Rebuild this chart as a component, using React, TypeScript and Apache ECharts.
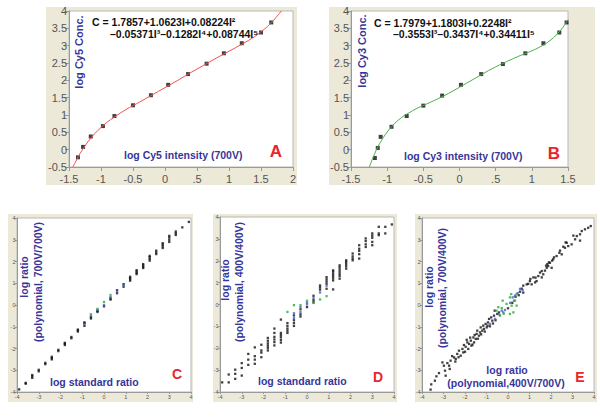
import React, { useEffect, useRef } from "react";
import * as echarts from "echarts";

// ---------- Panel A (Cy5) ----------
const aPointsI = [-1.36, -1.28, -1.16, -0.97, -0.79, -0.5, -0.22, 0.05, 0.36, 0.65, 0.92, 1.2, 1.5, 1.66];
const aPointsC = [-0.22, 0.08, 0.38, 0.68, 0.97, 1.28, 1.57, 1.87, 2.18, 2.48, 2.78, 3.07, 3.38, 3.67];
const aCurveI = [-1.44, -1.4, -1.35, -1.3, -1.2, -1.1, -1.0, -0.9, -0.8, -0.6, -0.4, -0.2, 0, 0.2, 0.4, 0.6, 0.8, 1.0, 1.2, 1.4, 1.5, 1.6, 1.7, 1.82];
const aCurveC = [-0.5, -0.36, -0.18, -0.03, 0.24, 0.46, 0.64, 0.8, 0.93, 1.17, 1.37, 1.58, 1.79, 2.0, 2.22, 2.43, 2.64, 2.84, 3.04, 3.26, 3.4, 3.55, 3.74, 4.0];

// ---------- Panel B (Cy3) ----------
const bPointsI = [-1.17, -1.13, -1.09, -0.94, -0.73, -0.5, -0.24, 0.02, 0.3, 0.6, 0.91, 1.16, 1.38, 1.48];
const bPointsC = [-0.24, 0.05, 0.37, 0.66, 0.97, 1.27, 1.56, 1.87, 2.18, 2.47, 2.78, 3.07, 3.38, 3.67];
const bCurveI = [-1.246, -1.2, -1.15, -1.1, -1.05, -1.0, -0.9, -0.8, -0.7, -0.6, -0.4, -0.2, 0, 0.2, 0.4, 0.6, 0.8, 1.0, 1.1, 1.2, 1.3, 1.4, 1.45, 1.5];
const bCurveC = [-0.5, -0.25, -0.01, 0.19, 0.36, 0.51, 0.75, 0.93, 1.06, 1.18, 1.37, 1.57, 1.8, 2.04, 2.28, 2.49, 2.68, 2.85, 2.95, 3.07, 3.23, 3.45, 3.59, 3.75];

// ---------- Panel C ----------
const cBlack: number[][] = [
  [-3.9, -3.88], [-3.6, -3.62], [-3.6, -3.58], [-3.3, -3.35], [-3.3, -3.28], [-3.3, -3.22],
  [-3.0, -3.05], [-3.0, -2.98], [-2.7, -2.72], [-2.7, -2.66], [-2.4, -2.5], [-2.4, -2.44], [-2.4, -2.38],
  [-2.1, -2.12], [-2.1, -2.06], [-1.8, -1.84], [-1.8, -1.78], [-1.8, -1.74], [-1.5, -1.53], [-1.5, -1.47],
  [-1.2, -1.22], [-1.2, -1.17], [-1.2, -1.13], [-0.9, -0.96], [-0.9, -0.84], [-0.9, -0.8],
  [-0.6, -0.62], [-0.6, -0.56], [-0.3, -0.32], [-0.3, -0.27], [0, -0.06], [0.3, 0.25], [0.3, 0.3],
  [0.6, 0.54], [0.6, 0.68], [0.9, 0.84], [0.9, 0.96], [1.2, 1.12], [1.2, 1.18], [1.2, 1.24], [1.2, 1.3],
  [1.5, 1.42], [1.5, 1.48], [1.5, 1.54], [1.5, 1.6], [1.8, 1.7], [1.8, 1.76], [1.8, 1.82], [1.8, 1.88],
  [2.1, 2.04], [2.1, 2.12], [2.1, 2.2], [2.1, 2.26], [2.4, 2.34], [2.4, 2.42], [2.4, 2.5],
  [2.7, 2.62], [2.7, 2.7], [2.7, 2.78], [2.7, 2.84], [3.0, 2.9], [3.0, 3.0], [3.0, 3.1], [3.0, 3.18],
  [3.3, 3.22], [3.3, 3.3], [3.3, 3.38], [3.6, 3.57], [3.9, 3.82],
];
const cBlue: number[][] = [[-0.9, -0.88], [-0.6, -0.5], [-0.3, -0.22], [0, 0.0], [0.3, 0.36], [0.6, 0.62], [0.9, 0.9]];
const cGreen: number[][] = [[-0.6, -0.42], [-0.3, -0.18], [0, 0.14], [0.3, 0.46]];

// ---------- Panel D ----------
const dBlack: number[][] = [
  [-3.9, -3.56], [-3.6, -3.56], [-3.6, -3.2], [-3.3, -3.4], [-3.3, -3.17], [-3.3, -2.98],
  [-3.0, -3.25], [-3.0, -2.9], [-3.0, -2.68], [-2.7, -2.76], [-2.7, -2.52], [-2.7, -2.26],
  [-2.4, -2.71], [-2.4, -2.52], [-2.4, -2.36], [-2.4, -1.96], [-2.1, -2.41], [-2.1, -2.2], [-2.1, -2.1], [-2.1, -1.84],
  [-1.8, -2.1], [-1.8, -1.98], [-1.8, -1.88], [-1.8, -1.78], [-1.8, -1.66], [-1.8, -1.53],
  [-1.5, -1.87], [-1.5, -1.72], [-1.5, -1.6], [-1.5, -1.48], [-1.5, -1.3], [-1.5, -1.1],
  [-1.2, -1.74], [-1.2, -1.62], [-1.2, -1.5], [-1.2, -1.4], [-1.2, -1.3], [-1.2, -0.69],
  [-0.9, -1.3], [-0.9, -1.2], [-0.9, -1.1], [-0.9, -0.98], [-0.9, -0.85],
  [-0.6, -0.98], [-0.6, -0.85], [-0.6, -0.72], [-0.6, -0.5], [-0.3, -0.55], [-0.3, -0.45], [-0.3, -0.22],
  [0, -0.12], [0.3, 0.1], [0.3, 0.2], [0.3, 0.4], [0.6, 0.68], [0.6, 0.78], [0.6, 0.87],
  [0.9, 0.72], [0.9, 0.95], [0.9, 1.05], [0.9, 1.15], [0.9, 1.25],
  [1.2, 0.69], [1.2, 1.1], [1.2, 1.2], [1.2, 1.3], [1.2, 1.4], [1.2, 1.5], [1.2, 1.56],
  [1.5, 1.18], [1.5, 1.3], [1.5, 1.4], [1.5, 1.5], [1.5, 1.6], [1.5, 1.7], [1.5, 1.79],
  [1.8, 1.64], [1.8, 1.75], [1.8, 1.85], [1.8, 1.95], [1.8, 2.02], [2.1, 2.02], [2.1, 2.1], [2.1, 2.2], [2.1, 2.33],
  [2.4, 2.1], [2.4, 2.3], [2.4, 2.45], [2.4, 2.55], [2.4, 2.71], [2.7, 2.63], [2.7, 2.75], [2.7, 2.9], [2.7, 3.02],
  [3.0, 2.71], [3.0, 2.86], [3.0, 3.05], [3.0, 3.15], [3.0, 3.25], [3.3, 3.17], [3.3, 3.25], [3.3, 3.55],
  [3.6, 3.25], [3.6, 3.55], [3.9, 3.66],
];
const dBlue: number[][] = [[-0.6, -0.62], [-0.6, -0.4], [-0.3, -0.35], [-0.3, -0.12], [0, 0.0], [0, 0.08], [0.3, 0.3], [0.6, 0.55], [0.9, 0.86]];
const dGreen: number[][] = [[-0.9, -0.34], [-0.6, -0.03], [-0.3, -0.03], [0, 0.17], [0.3, 0.07], [0.6, 0.23], [0.9, 0.38]];

// ---------- Panel E ----------
const eBlack: number[][] = [
  [-3.6, -3.89], [-3.57, -3.65], [-3.4, -3.48], [-3.33, -3.28], [-3.21, -3.13], [-3.05, -2.64], [-2.98, -2.79],
  [-2.93, -3.02], [-2.9, -3.25], [-2.82, -2.67], [-2.71, -2.94], [-2.74, -2.79], [-2.67, -2.56], [-2.6, -2.35],
  [-2.51, -2.41], [-2.45, -2.6], [-2.43, -2.48], [-2.36, -2.25], [-2.3, -2.4], [-2.28, -2.1], [-2.2, -2.33],
  [-2.12, -2.02], [-2.08, -2.18], [-2.05, -1.84], [-2.0, -2.15], [-1.97, -1.92], [-1.92, -1.6], [-1.89, -1.72],
  [-1.85, -2.02], [-1.81, -1.79], [-1.76, -1.5], [-1.73, -1.64], [-1.7, -1.87], [-1.65, -1.82], [-1.61, -1.49],
  [-1.58, -1.72], [-1.55, -1.38], [-1.5, -1.56], [-1.46, -1.33], [-1.43, -1.18], [-1.4, -1.55], [-1.35, -1.41],
  [-1.3, -1.26], [-1.27, -1.03], [-1.25, -1.35], [-1.2, -1.18], [-1.15, -0.95], [-1.12, -1.1], [-1.08, -1.22],
  [-1.04, -0.87], [-0.99, -1.03], [-0.95, -0.95], [-0.93, -0.8], [-0.88, -0.64], [-0.84, -0.98], [-0.78, -0.57],
  [-0.73, -0.72], [-0.7, -0.85], [-0.65, -0.49], [-0.62, -0.26], [-0.58, -0.7], [-0.5, -0.41], [-0.42, -0.34],
  [0.0, -0.15], [0.2, 0.1], [0.35, 0.38], [0.5, 0.45], [0.56, 0.61], [0.64, 0.75], [0.71, 0.57], [0.71, 0.89],
  [0.87, 0.95], [0.94, 0.97], [1.02, 1.1], [1.04, 1.2], [1.1, 0.95], [1.18, 1.27], [1.26, 1.04], [1.28, 1.26],
  [1.33, 1.1], [1.41, 1.33], [1.49, 1.49], [1.57, 1.56], [1.57, 1.27], [1.64, 1.41], [1.72, 1.58], [1.77, 1.81],
  [1.8, 1.71], [1.83, 1.88], [1.87, 1.79], [1.9, 1.96], [1.95, 1.94], [2.03, 1.71], [2.05, 2.04], [2.1, 2.1],
  [2.14, 2.19], [2.26, 2.25], [2.39, 2.4], [2.42, 2.5], [2.5, 2.33], [2.57, 2.68], [2.65, 2.63], [2.68, 2.88],
  [2.73, 2.86], [2.8, 2.71], [2.96, 2.79], [3.04, 3.19], [3.12, 3.02], [3.2, 3.17], [3.35, 3.25], [3.35, 2.96],
  [3.43, 3.4], [3.58, 3.48], [3.73, 3.55], [3.85, 3.63],
];
const eBlue: number[][] = [
  [-0.84, -0.87], [-0.6, -0.64], [-0.4, -0.45], [-0.29, -0.26], [-0.22, -0.34], [-0.14, -0.23], [0.1, 0.1],
  [0.22, 0.35], [0.28, 0.2], [0.33, 0.43], [0.45, 0.55], [0.56, 0.74], [0.68, 0.69],
];
const eGreen: number[][] = [
  [-0.53, -0.26], [-0.45, -0.1], [-0.37, -0.49], [-0.29, -0.14], [-0.25, 0.2], [-0.2, -0.4], [-0.07, 0.05],
  [0.09, 0.35], [0.09, -0.41], [0.15, 0.5], [0.17, -0.03], [0.25, -0.34], [0.33, 0.2], [0.4, -0.03], [0.4, 0.5],
];

const FONT = "'Liberation Sans', Arial, sans-serif";
const BLUE_TXT = "#36369a";
const RED_TXT = "#e8242c";
const BEIGE = "#ece9d8";
const AXIS_GRAY = "#999";
const PT_BLUE = "#3e5fc8";
const PT_GREEN = "#2fa83a";

const zip = (xs: number[], ys: number[]) => xs.map((x, i) => [x, ys[i]]);

function bigAxis(idx: number, min: number, max: number, isX: boolean) {
  return {
    type: "value",
    gridIndex: idx,
    min,
    max,
    interval: 0.5,
    axisLine: { show: true, onZero: false, lineStyle: { color: AXIS_GRAY, width: 1 } },
    axisTick: { show: true, length: 4, lineStyle: { color: AXIS_GRAY } },
    splitLine: { show: false },
    axisLabel: {
      fontSize: 11,
      lineHeight: 11,
      fontFamily: FONT,
      color: "#555",
      margin: isX ? 6 : 2,
      formatter: (v: number) => (isX && Math.abs(v - 0.5) < 1e-9 ? ".5" : String(v)),
    },
  };
}

function smallAxis(idx: number) {
  return {
    type: "value",
    gridIndex: idx,
    min: -4,
    max: 4,
    interval: 1,
    axisLine: { show: true, onZero: false, lineStyle: { color: AXIS_GRAY, width: 1 } },
    axisTick: { show: true, length: 2, lineStyle: { color: AXIS_GRAY } },
    splitLine: { show: false },
    axisLabel: { fontSize: 5.5, fontFamily: FONT, color: "#555", margin: 1.5 },
  };
}

function scatter(idx: number, data: number[][], color: string, size: number) {
  return {
    type: "scatter",
    xAxisIndex: idx,
    yAxisIndex: idx,
    data,
    symbol: "rect",
    symbolSize: size,
    itemStyle: { color },
    silent: true,
  };
}

function txt(x: number, y: number, text: string, opts: any = {}) {
  const align = opts.align || "left";
  const valign = opts.valign || "middle";
  return {
    type: "text",
    x,
    y,
    rotation: opts.rotation || 0,
    z: 100,
    style: {
      text,
      fill: opts.color || BLUE_TXT,
      font: `${opts.weight || "bold"} ${opts.size || 10.5}px ${FONT}`,
      textAlign: align,
      textVerticalAlign: valign,
      align,
      verticalAlign: valign,
    },
  };
}

function rect(x: number, y: number, w: number, h: number) {
  return { type: "rect", z: -10, shape: { x, y, width: w, height: h }, style: { fill: BEIGE } };
}

export default function App() {
  const ref = useRef<HTMLDivElement>(null);
  useEffect(() => {
    if (!ref.current) return;
    const chart = echarts.init(ref.current, undefined, { renderer: "svg" });
    const gridBase = { show: true, backgroundColor: "#fff", borderColor: "#b8b8b8", borderWidth: 1, containLabel: false };
    const option: any = {
      animation: false,
      backgroundColor: "#fff",
      grid: [
        { ...gridBase, left: 69, top: 11, width: 224, height: 156 },
        { ...gridBase, left: 351, top: 11, width: 217, height: 156 },
        { ...gridBase, left: 17, top: 218, width: 174, height: 174 },
        { ...gridBase, left: 220, top: 217, width: 174, height: 175 },
        { ...gridBase, left: 422, top: 218, width: 172, height: 174 },
      ],
      xAxis: [
        bigAxis(0, -1.5, 2, true),
        bigAxis(1, -1.5, 1.5, true),
        smallAxis(2),
        smallAxis(3),
        smallAxis(4),
      ],
      yAxis: [
        bigAxis(0, -0.5, 4, false),
        bigAxis(1, -0.5, 4, false),
        smallAxis(2),
        smallAxis(3),
        smallAxis(4),
      ],
      series: [
        {
          type: "line",
          xAxisIndex: 0,
          yAxisIndex: 0,
          data: zip(aCurveI, aCurveC),
          smooth: 0.3,
          showSymbol: false,
          lineStyle: { color: "#f05050", width: 1 },
          silent: true,
        },
        scatter(0, zip(aPointsI, aPointsC), "#111", 4),
        {
          type: "line",
          xAxisIndex: 1,
          yAxisIndex: 1,
          data: zip(bCurveI, bCurveC),
          smooth: 0.3,
          showSymbol: false,
          lineStyle: { color: "#4cae4c", width: 1 },
          silent: true,
        },
        scatter(1, zip(bPointsI, bPointsC), "#111", 4),
        scatter(2, cBlack, "#111", 2.3),
        scatter(2, cBlue, PT_BLUE, 2.3),
        scatter(2, cGreen, PT_GREEN, 2.3),
        scatter(3, dBlack, "#111", 2.3),
        scatter(3, dBlue, PT_BLUE, 2.3),
        scatter(3, dGreen, PT_GREEN, 2.3),
        scatter(4, eBlack, "#111", 2.3),
        scatter(4, eBlue, PT_BLUE, 2.3),
        scatter(4, eGreen, PT_GREEN, 2.3),
      ],
      graphic: [
        rect(46, 7, 251, 178),
        rect(329, 7, 266, 178),
        rect(8, 214, 185, 188),
        rect(213, 214, 184, 188),
        rect(415, 214, 182, 188),
        // Panel A
        txt(79, 52, "log Cy5 Conc.", { rotation: Math.PI / 2, align: "center", size: 11 }),
        txt(92, 22, "C = 1.7857+1.0623I+0.08224I²", { color: "#111" }),
        txt(110, 34, "–0.05371I³–0.1282I⁴+0.08744I⁵", { color: "#111" }),
        txt(124, 155, "log Cy5 intensity (700V)"),
        txt(276, 151, "A", { color: RED_TXT, size: 17, align: "center" }),
        // Panel B
        txt(362, 51, "log Cy3 Conc.", { rotation: Math.PI / 2, align: "center", size: 11 }),
        txt(374, 23, "C = 1.7979+1.1803I+0.2248I²", { color: "#111" }),
        txt(393, 34, "–0.3553I³–0.3437I⁴+0.34411I⁵", { color: "#111" }),
        txt(404, 156, "log Cy3 intensity (700V)"),
        txt(554, 153, "B", { color: RED_TXT, size: 17, align: "center" }),
        // Panel C
        txt(24, 277, "log ratio", { rotation: Math.PI / 2, align: "center" }),
        txt(38, 282, "(polynomial, 700V/700V)", { rotation: Math.PI / 2, align: "center" }),
        txt(50, 382, "log standard ratio"),
        txt(177, 374, "C", { color: RED_TXT, size: 14, align: "center" }),
        // Panel D
        txt(225, 280, "log ratio", { rotation: Math.PI / 2, align: "center" }),
        txt(239, 282, "(polynomial, 400V/400V)", { rotation: Math.PI / 2, align: "center" }),
        txt(258, 381, "log standard ratio"),
        txt(378, 377, "D", { color: RED_TXT, size: 14, align: "center" }),
        // Panel E
        txt(429, 287, "log ratio", { rotation: Math.PI / 2, align: "center" }),
        txt(442, 288, "(polynomial, 700V/400V)", { rotation: Math.PI / 2, align: "center" }),
        txt(507, 370, "log ratio", { align: "center" }),
        txt(506, 383, "(polynomial,400V/700V)", { align: "center" }),
        txt(580, 377, "E", { color: RED_TXT, size: 14, align: "center" }),
      ],
    };
    chart.setOption(option);
    return () => chart.dispose();
  }, []);
  return (
    <div
      ref={ref}
      style={{ position: "fixed", left: 0, top: 0, width: 600, height: 418, background: "#fff" }}
    />
  );
}
